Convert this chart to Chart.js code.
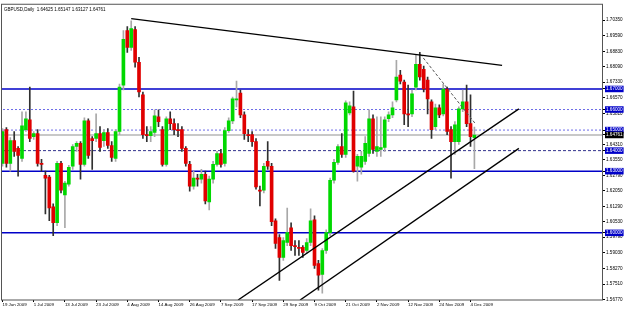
<!DOCTYPE html>
<html>
<head>
<meta charset="utf-8">
<script src="https://cdn.jsdelivr.net/npm/chart.js@4.4.0/dist/chart.umd.min.js"></script>
<style>
  body { margin: 0; background: #fff; }
  #wrap { width: 625px; height: 310px; }
</style>
</head>
<body>
<div id="wrap"><canvas id="chart" width="625" height="310"></canvas></div>
<script>
// GBPUSD daily, 19 Jun 2009 - 7 Dec 2009
const opens = [
  1.6338, 1.6502, 1.6338, 1.6449, 1.6411, 1.6362, 1.6502, 1.6550, 1.6468, 1.6483,
  1.6338, 1.6280, 1.6271, 1.6126, 1.6049, 1.6338, 1.6184, 1.6237, 1.6324, 1.6420,
  1.6435, 1.6333, 1.6545, 1.6459, 1.6459, 1.6483, 1.6449, 1.6488, 1.6425, 1.6362,
  1.6493, 1.6719, 1.6984, 1.6902, 1.6989, 1.6830, 1.6671, 1.6478, 1.6473, 1.6488,
  1.6565, 1.6502, 1.6333, 1.6555, 1.6531, 1.6502, 1.6502, 1.6411, 1.6333, 1.6227,
  1.6266, 1.6261, 1.6285, 1.6150, 1.6261, 1.6333, 1.6386, 1.6338, 1.6497, 1.6545,
  1.6647, 1.6680, 1.6574, 1.6478, 1.6478, 1.6444, 1.6208, 1.6208, 1.6348, 1.6324,
  1.6059, 1.5977, 1.5880, 1.5953, 1.6025, 1.5938, 1.5929, 1.5929, 1.5914, 1.5953,
  1.6063, 1.5851, 1.5798, 1.5914, 1.6001, 1.6256, 1.6343, 1.6420, 1.6382, 1.6584,
  1.6613, 1.6324, 1.6319, 1.6348, 1.6386, 1.6555, 1.6396, 1.6406, 1.6415, 1.6555,
  1.6574, 1.6647, 1.6767, 1.6733, 1.6579, 1.6579, 1.6709, 1.6820, 1.6796, 1.6743,
  1.6637, 1.6517, 1.6608, 1.6579, 1.6700, 1.6502, 1.6444, 1.6444, 1.6603, 1.6637,
  1.6531, 1.64625
];
const highs = [
  1.6507, 1.6512, 1.6464, 1.6493, 1.6420, 1.6589, 1.6589, 1.6709, 1.6493, 1.6502,
  1.6358, 1.6300, 1.6280, 1.6141, 1.6348, 1.6348, 1.6251, 1.6328, 1.6430, 1.6444,
  1.6444, 1.6560, 1.6555, 1.6468, 1.6579, 1.6517, 1.6502, 1.6507, 1.6444, 1.6502,
  1.6724, 1.6984, 1.7003, 1.7032, 1.7003, 1.6854, 1.6685, 1.6517, 1.6517, 1.6599,
  1.6599, 1.6517, 1.6565, 1.6589, 1.6555, 1.6531, 1.6517, 1.6420, 1.6348, 1.6300,
  1.6285, 1.6309, 1.6300, 1.6276, 1.6348, 1.6396, 1.6406, 1.6512, 1.6560, 1.6661,
  1.6738, 1.6695, 1.6589, 1.6502, 1.6493, 1.6459, 1.6227, 1.6338, 1.6444, 1.6338,
  1.6068, 1.5991, 1.5977, 1.6121, 1.6049, 1.5962, 1.5962, 1.5938, 1.5972, 1.6117,
  1.6083, 1.5866, 1.5924, 1.6015, 1.6266, 1.6358, 1.6430, 1.6483, 1.6642, 1.6637,
  1.6690, 1.6382, 1.6396, 1.6468, 1.6599, 1.6574, 1.6565, 1.6565, 1.6565, 1.6589,
  1.6637, 1.6839, 1.6791, 1.6743, 1.6719, 1.6695, 1.6868, 1.6878, 1.6811, 1.6758,
  1.6647, 1.6627, 1.6623, 1.6724, 1.6709, 1.6517, 1.6541, 1.6613, 1.6695, 1.6719,
  1.6671, 1.65147
];
const lows = [
  1.6324, 1.6319, 1.6300, 1.6372, 1.6276, 1.6348, 1.6493, 1.6444, 1.6454, 1.6324,
  1.6300, 1.6092, 1.6059, 1.5986, 1.6035, 1.6194, 1.6025, 1.6227, 1.6309, 1.6396,
  1.6261, 1.6324, 1.6362, 1.6309, 1.6444, 1.6396, 1.6420, 1.6411, 1.6348, 1.6348,
  1.6478, 1.6695, 1.6878, 1.6888, 1.6806, 1.6661, 1.6459, 1.6444, 1.6444, 1.6468,
  1.6517, 1.6324, 1.6324, 1.6502, 1.6478, 1.6468, 1.6396, 1.6324, 1.6203, 1.6213,
  1.6227, 1.6242, 1.6141, 1.6112, 1.6242, 1.6324, 1.6319, 1.6324, 1.6488, 1.6531,
  1.6613, 1.6560, 1.6454, 1.6444, 1.6420, 1.6213, 1.6131, 1.6194, 1.6309, 1.6035,
  1.5924, 1.5769, 1.5866, 1.5938, 1.5914, 1.5890, 1.5890, 1.5880, 1.5900, 1.5938,
  1.5827, 1.5721, 1.5707, 1.5900, 1.5986, 1.6242, 1.6333, 1.6367, 1.6367, 1.6574,
  1.6295, 1.6251, 1.6285, 1.6333, 1.6372, 1.6386, 1.6372, 1.6372, 1.6396, 1.6541,
  1.6560, 1.6637, 1.6724, 1.6526, 1.6517, 1.6565, 1.6695, 1.6743, 1.6685, 1.6579,
  1.6459, 1.6502, 1.6560, 1.6569, 1.6478, 1.6266, 1.6382, 1.6430, 1.6589, 1.6517,
  1.6420, 1.63127
];
const closes = [
  1.6493, 1.6338, 1.6449, 1.6396, 1.6377, 1.6521, 1.6555, 1.6459, 1.6483, 1.6338,
  1.6333, 1.6266, 1.6121, 1.6049, 1.6338, 1.6208, 1.6242, 1.6319, 1.6420, 1.6435,
  1.6333, 1.6545, 1.6377, 1.6449, 1.6483, 1.6415, 1.6488, 1.6425, 1.6367, 1.6493,
  1.6709, 1.6941, 1.6902, 1.6994, 1.6830, 1.6685, 1.6478, 1.6473, 1.6493, 1.6569,
  1.6541, 1.6333, 1.6555, 1.6531, 1.6502, 1.6497, 1.6411, 1.6338, 1.6227, 1.6266,
  1.6261, 1.6285, 1.6155, 1.6261, 1.6333, 1.6386, 1.6333, 1.6497, 1.6545, 1.6652,
  1.6652, 1.6574, 1.6483, 1.6473, 1.6444, 1.6223, 1.6203, 1.6324, 1.6324, 1.6054,
  1.5948, 1.5880, 1.5962, 1.6001, 1.5938, 1.5933, 1.5924, 1.5905, 1.5953, 1.6059,
  1.5842, 1.5794, 1.5914, 1.6001, 1.6256, 1.6343, 1.6420, 1.6382, 1.6632, 1.6618,
  1.6300, 1.6372, 1.6372, 1.6435, 1.6555, 1.6406, 1.6420, 1.6415, 1.6550, 1.6574,
  1.6608, 1.6758, 1.6738, 1.6579, 1.6574, 1.6676, 1.6820, 1.6758, 1.6700, 1.6652,
  1.6502, 1.6608, 1.6574, 1.6700, 1.6493, 1.6444, 1.6526, 1.6603, 1.6637, 1.6531,
  1.6468, 1.64761
];

// time axis: bar index of each date label
const dateTicks = [0, 8, 16, 24, 32, 40, 48, 56, 64, 72, 80, 88, 96, 104, 112, 120];
const dateLabels = ["19 Jun 2009", "1 Jul 2009", "13 Jul 2009", "23 Jul 2009", "4 Aug 2009",
  "14 Aug 2009", "26 Aug 2009", "7 Sep 2009", "17 Sep 2009", "29 Sep 2009", "9 Oct 2009",
  "21 Oct 2009", "2 Nov 2009", "12 Nov 2009", "24 Nov 2009", "4 Dec 2009"];

// price scale labels
const priceTicks = [1.5677, 1.5751, 1.5827, 1.5903, 1.5979, 1.6053, 1.6129, 1.6205, 1.6279,
  1.6355, 1.6431, 1.6581, 1.6657, 1.6733, 1.6809, 1.6883, 1.6959, 1.7035];

// horizontal levels
const solidLevels = [1.67, 1.63, 1.60];
const dottedLevels = [1.66, 1.65];
const dashedLevel = 1.64;
const lastPrice = 1.64761;
const headerText = "GBPUSD,Daily  1.64625 1.65147 1.63127 1.64761";

// trend lines (bar index, price)
const topLine = [{x: 33, y: 1.7042}, {x: 128.1, y: 1.6815}];
const dashLine = [{x: 107.1, y: 1.6870}, {x: 121.2, y: 1.6532}];
const channelUp = [{x: 60.4, y: 1.5673}, {x: 132.4, y: 1.6603}];
const channelLow = [{x: 76.3, y: 1.5673}, {x: 132.4, y: 1.6411}];

const bull = closes.map((c, i) => c >= opens[i]);
const bodies = opens.map((o, i) => ({x: i, y: [o, closes[i]]}));
const wicks = highs.map((h, i) => ({x: i, y: [lows[i], h]}));

const FONT = '"Liberation Sans", Arial, sans-serif';

function hLine(v) {
    return [{x: -5, y: v}, {x: 200, y: v}];
}

const frame = {
    id: 'frame',
    afterDraw(chart) {
        const {ctx, chartArea: a} = chart;
        ctx.save();
        ctx.strokeStyle = '#555';
        ctx.lineWidth = 1;
        ctx.strokeRect(a.left + 0.5, a.top + 0.5, a.right - a.left - 1, a.bottom - a.top - 0.5);
        ctx.fillStyle = '#000';
        ctx.font = '4.5px ' + FONT;
        ctx.textBaseline = 'middle';
        ctx.fillText(headerText, a.left + 3, a.top + 6);
        ctx.restore();
    }
};

const allLevels = solidLevels.concat(dottedLevels, [dashedLevel]);
const isMarked = v => allLevels.includes(v) || v === lastPrice;

new Chart(document.getElementById('chart'), {
    type: 'bar',
    data: {
        datasets: [
            {type: 'line', data: topLine, borderColor: '#000', borderWidth: 1.3, pointRadius: 0, order: 1},
            {type: 'line', data: dashLine, borderColor: '#555', borderWidth: 1, borderDash: [3, 2], pointRadius: 0, order: 1},
            {type: 'line', data: channelUp, borderColor: '#000', borderWidth: 1.3, pointRadius: 0, order: 1},
            {type: 'line', data: channelLow, borderColor: '#000', borderWidth: 1.3, pointRadius: 0, order: 1},
            {data: bodies, backgroundColor: bull.map(b => b ? '#00d800' : '#e00000'),
             barThickness: 3, grouped: false, minBarLength: 1, order: 2},
            {data: wicks, backgroundColor: bull.map(b => b ? '#a8a8a8' : '#303030'),
             barThickness: 1, grouped: false, order: 3},
            ...solidLevels.map(v => ({type: 'line', data: hLine(v), borderColor: '#0000c8', borderWidth: 1.5, pointRadius: 0, order: 4})),
            ...dottedLevels.map(v => ({type: 'line', data: hLine(v), borderColor: '#6c6ce8', borderWidth: 1, borderDash: [2, 2], pointRadius: 0, order: 4})),
            {type: 'line', data: hLine(dashedLevel), borderColor: '#30308c', borderWidth: 1, borderDash: [3, 2], pointRadius: 0, order: 4},
            {type: 'line', data: hLine(lastPrice), borderColor: '#c8c8c8', borderWidth: 2, pointRadius: 0, order: 5}
        ]
    },
    options: {
        responsive: false,
        animation: false,
        events: [],
        devicePixelRatio: 1,
        layout: {padding: {left: 1, top: 1, right: 0, bottom: 0}},
        plugins: {legend: {display: false}, tooltip: {enabled: false}},
        scales: {
            x: {
                type: 'linear',
                offset: false,
                min: -0.385,
                max: 153.97,
                afterBuildTicks: s => { s.ticks = dateTicks.map(v => ({value: v})); },
                afterFit: s => { s.height = 10; },
                grid: {drawOnChartArea: false, tickLength: 2, color: '#000', offset: false},
                border: {display: false},
                ticks: {
                    autoSkip: false, maxRotation: 0, align: 'start', padding: 0,
                    color: '#000', font: {family: FONT, size: 4.4},
                    callback: (v, i) => dateLabels[i]
                }
            },
            y: {
                position: 'right',
                min: 1.56733,
                max: 1.71145,
                afterBuildTicks: s => { s.ticks = priceTicks.concat(allLevels, [lastPrice]).map(v => ({value: v})); },
                afterFit: s => { s.width = 22; },
                grid: {drawOnChartArea: false, tickLength: 2, color: '#000'},
                border: {display: false},
                ticks: {
                    autoSkip: false, padding: 1,
                    font: {family: FONT, size: 4.6},
                    color: c => isMarked(c.tick.value) ? '#fff' : '#000',
                    showLabelBackdrop: c => isMarked(c.tick.value),
                    backdropColor: c => c.tick.value === lastPrice ? '#000' : '#0000c8',
                    backdropPadding: {x: 1, y: 0.5},
                    callback: v => v.toFixed(5)
                }
            }
        }
    },
    plugins: [frame]
});
</script>
</body>
</html>
